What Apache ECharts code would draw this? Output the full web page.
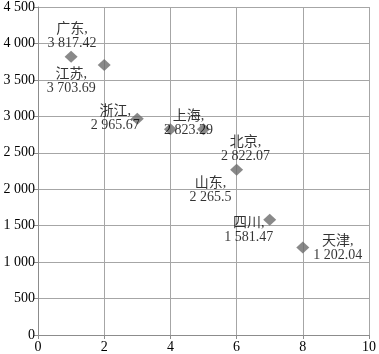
<!DOCTYPE html>
<html><head><meta charset="utf-8">
<script src="https://cdn.jsdelivr.net/npm/echarts@6/dist/echarts.min.js"></script>
<style>html,body{margin:0;padding:0;background:#fff}#c{width:379px;height:354px}</style>
</head><body><div id="c"></div>
<script>
const names = ['广东','江苏','浙江','上海','北京','山东','四川','天津'];
const xs = [1,2,3,4,5,6,7,8];
const values = [3817.42,3703.69,2965.67,2823.29,2822.07,2265.5,1581.47,1202.04];
const labelOffsets = [[1,-20],[-33,16],[-22,-1],[18,-6],[42,20],[-26,20],[-21,11],[35,1]];

const fmt = v => {
  const s = String(v).split('.');
  s[0] = s[0].replace(/\B(?=(\d{3})+(?!\d))/g, ' ');
  return s.join('.');
};
const FONT = '"Liberation Serif", "Noto Sans CJK SC", serif';
const chart = echarts.init(document.getElementById('c'));
chart.setOption({
  animation: false,
  grid: {left: 38, right: 8, top: 5.5, bottom: 17.3, containLabel: false},
  xAxis: {
    type: 'value', min: 0, max: 10, interval: 2,
    axisLine: {show: true, onZero: false, lineStyle: {color: '#8c8c8c', width: 1}},
    axisTick: {show: true, length: 4, lineStyle: {color: '#8c8c8c'}},
    splitLine: {show: true, lineStyle: {color: '#a6a6a6', width: 1}},
    axisLabel: {color: '#000', fontFamily: FONT, fontSize: 14, margin: 5}
  },
  yAxis: {
    type: 'value', min: 0, max: 4500, interval: 500,
    axisLine: {show: true, onZero: false, lineStyle: {color: '#8c8c8c', width: 1}},
    axisTick: {show: true, length: 4, lineStyle: {color: '#8c8c8c'}},
    splitLine: {show: true, lineStyle: {color: '#a6a6a6', width: 1}},
    axisLabel: {color: '#000', fontFamily: FONT, fontSize: 14, margin: 3, formatter: v => fmt(v)}
  },
  series: [{
    type: 'scatter',
    symbol: 'diamond',
    symbolSize: [13, 12],
    itemStyle: {color: '#6b6b6b'},
    data: xs.map((x, i) => ({
      value: [x, values[i]],
      label: {
        show: true, position: 'inside', offset: labelOffsets[i],
        formatter: names[i] + ',\n' + fmt(values[i]),
        color: '#000', fontFamily: FONT, fontSize: 14, lineHeight: 14, align: 'center', verticalAlign: 'middle'
      }
    }))
  }]
});
</script></body></html>
